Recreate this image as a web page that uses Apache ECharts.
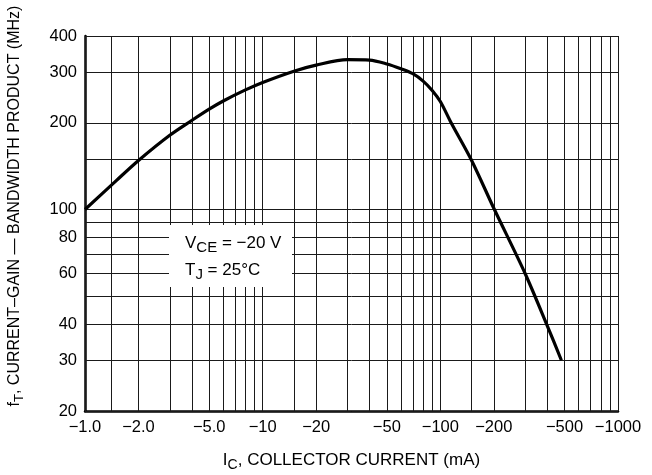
<!DOCTYPE html>
<html>
<head>
<meta charset="utf-8">
<script src="https://cdn.jsdelivr.net/npm/echarts@6/dist/echarts.min.js"></script>
<style>
  html, body { margin: 0; padding: 0; background: #fff; }
  #chart { width: 652px; height: 475px; }
</style>
</head>
<body>
<div id="chart"></div>
<script>
// Collector current magnitude (mA) and transition frequency fT (MHz)
var icValues = [1, 1.5, 2, 3, 4, 5, 6, 8, 10, 15, 20, 30, 40, 50, 60, 70, 80, 90, 100, 115, 150, 200, 300, 400, 480];
var ftValues = [100, 126, 148, 181, 204, 223, 238, 260, 276, 302, 317, 331, 330, 320, 308, 296, 279, 259, 237, 200, 148, 101, 60, 39.5, 30];

// Labelled ticks
var xTickValues = [1, 2, 5, 10, 20, 50, 100, 200, 500, 1000];
var xTickText = ['\u22121.0', '\u22122.0', '\u22125.0', '\u221210', '\u221220', '\u221250', '\u2212100', '\u2212200', '\u2212500', '\u22121000'];
var yTickValues = [20, 30, 40, 60, 80, 100, 200, 300, 400];
var yTickText = ['20', '30', '40', '60', '80', '100', '200', '300', '400'];

// Grid rulings of the log-log paper
var xGridValues = [1, 1.4, 2, 3, 4, 5, 6, 7, 8, 9, 10, 15, 20, 30, 40, 50, 60, 70, 80, 90,
                   100, 150, 200, 300, 400, 500, 600, 700, 800, 900, 1000];
var yGridValues = [20, 30, 40, 50, 60, 70, 80, 90, 100, 150, 200, 300, 400];

var FONT = '"Liberation Sans", Arial, Helvetica, sans-serif';

function lookupLabel(vals, texts, v) {
  var best = 0, bestD = Infinity;
  for (var i = 0; i < vals.length; i++) {
    var d = Math.abs(Math.log(vals[i]) - Math.log(v));
    if (d < bestD) { bestD = d; best = i; }
  }
  return texts[best];
}

var seriesData = icValues.map(function (x, i) { return [x, ftValues[i]]; });

var gridLeft = 85, gridRight = 34, gridTop = 36, gridBottom = 64;
var plotW = 652 - gridLeft - gridRight;
var plotH = 475 - gridTop - gridBottom;

var chart = echarts.init(document.getElementById('chart'), null, { renderer: 'canvas' });

chart.setOption({
  animation: false,
  backgroundColor: '#fff',
  grid: {
    left: gridLeft, right: gridRight, top: gridTop, bottom: gridBottom,
    containLabel: false,
    outerBoundsMode: 'none'
  },
  xAxis: {
    type: 'log',
    logBase: 10,
    min: 1,
    max: 1000,
    name: '{m|I}{s|C}{m|, COLLECTOR CURRENT (mA)}',
    nameLocation: 'middle',
    nameGap: 37,
    nameTextStyle: {
      rich: {
        m: { fontFamily: FONT, fontSize: 17, color: '#000' },
        s: { fontFamily: FONT, fontSize: 14, color: '#000', padding: [10, 0, 0, 0] }
      }
    },
    axisLine: { show: true, onZero: false, lineStyle: { color: '#000', width: 2.5 } },
    axisTick: {
      show: true,
      inside: true,
      length: plotH,
      customValues: xGridValues,
      lineStyle: { color: '#1a1a1a', width: 1 }
    },
    splitLine: { show: false },
    minorTick: { show: false },
    minorSplitLine: { show: false },
    axisLabel: {
      customValues: xTickValues,
      margin: 8,
      fontFamily: FONT,
      fontSize: 16.5,
      color: '#000',
      formatter: function (v) { return lookupLabel(xTickValues, xTickText, v); }
    }
  },
  yAxis: {
    type: 'log',
    logBase: 10,
    min: 20,
    max: 400,
    axisLine: { show: true, onZero: false, lineStyle: { color: '#000', width: 2.5 } },
    axisTick: {
      show: true,
      inside: true,
      length: plotW,
      customValues: yGridValues,
      lineStyle: { color: '#1a1a1a', width: 1 }
    },
    splitLine: { show: false },
    minorTick: { show: false },
    minorSplitLine: { show: false },
    axisLabel: {
      customValues: yTickValues,
      margin: 8,
      fontFamily: FONT,
      fontSize: 16.5,
      color: '#000',
      formatter: function (v) { return lookupLabel(yTickValues, yTickText, v); }
    }
  },
  series: [{
    type: 'line',
    data: seriesData,
    showSymbol: false,
    smooth: 0.3,
    lineStyle: { color: '#000', width: 3.2 },
    z: 5
  }],
  graphic: [
    {
      type: 'text',
      z: 20,
      x: 15,
      y: 206,
      rotation: Math.PI / 2,
      style: {
        text: '{m|f}{s|T}{m|, CURRENT\u2013GAIN \u2014 BANDWIDTH PRODUCT (MHz)}',
        align: 'center',
        verticalAlign: 'middle',
        rich: {
          m: { fontFamily: FONT, fontSize: 16, fill: '#000' },
          s: { fontFamily: FONT, fontSize: 13, fill: '#000', padding: [8, 0, 0, 0] }
        }
      }
    },
    {
      type: 'rect',
      z: 20,
      shape: { x: 169, y: 225, width: 123, height: 62 },
      style: { fill: '#fff', stroke: null }
    },
    {
      type: 'text',
      z: 21,
      x: 185,
      y: 243,
      style: {
        text: '{m|V}{s|CE}{m| = \u221220 V}',
        align: 'left',
        verticalAlign: 'middle',
        rich: {
          m: { fontFamily: FONT, fontSize: 17, fill: '#000' },
          s: { fontFamily: FONT, fontSize: 15, fill: '#000', padding: [10, 0, 0, 0] }
        }
      }
    },
    {
      type: 'text',
      z: 21,
      x: 185,
      y: 270,
      style: {
        text: '{m|T}{s|J}{m| = 25\u00b0C}',
        align: 'left',
        verticalAlign: 'middle',
        rich: {
          m: { fontFamily: FONT, fontSize: 17, fill: '#000' },
          s: { fontFamily: FONT, fontSize: 15, fill: '#000', padding: [10, 0, 0, 0] }
        }
      }
    }
  ]
});
</script>
</body>
</html>
